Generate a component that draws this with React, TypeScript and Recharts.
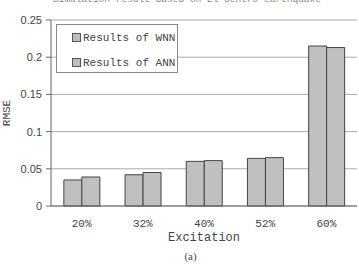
import { BarChart, Bar, XAxis, YAxis, CartesianGrid } from 'recharts';

const categories = ['20%', '32%', '40%', '52%', '60%'];
const wnnValues = [0.035, 0.042, 0.06, 0.064, 0.215];
const annValues = [0.039, 0.045, 0.061, 0.065, 0.213];
const yTicks = [0, 0.05, 0.1, 0.15, 0.2, 0.25];
const legendLabels = ['Results of WNN', 'Results of ANN'];

const mono = '"Liberation Mono", "DejaVu Sans Mono", monospace';
const sans = '"Liberation Sans", Arial, sans-serif';

const rows = categories.map((name, i) => ({ name, idx: i, wnn: wnnValues[i], ann: annValues[i] }));

// legend drawn as an overlay box so it does not push the plot down
function LegendBox() {
    return (
        <div style={{
            position: 'absolute', left: 56, top: 24, width: 122, height: 49, border: '1px solid #888', background: '#fff',
            fontFamily: mono, fontSize: 11, color: '#444', boxSizing: 'border-box', paddingLeft: 15, paddingTop: 4,
            whiteSpace: 'nowrap',
        }}>
            {legendLabels.map(label => (
                <div key={label} style={{ display: 'flex', alignItems: 'center', height: 17, marginBottom: 8 }}>
                    <span style={{ width: 7, height: 7, background: '#bdbdbd', border: '1px solid #555', marginRight: 2, display: 'inline-block', flexShrink: 0 }} />
                    <span>{label}</span>
                </div>
            ))}
        </div>
    );
}

export default function App() {
    return (
        <div style={{ position: 'absolute', left: 0, top: 0, width: 359, height: 264, background: '#fff', overflow: 'hidden' }}>
            <svg width={359} height={264} style={{ position: 'absolute', left: 0, top: 0 }}>
                {/* title is clipped by the top edge in the reference */}
                <text x={187} y={1.5} textAnchor="middle" fontFamily={mono} fontSize={9.5} fill="#888">
                    Simulation result based on El Centro earthquake
                </text>
            </svg>
            <BarChart width={359} height={264} data={rows} margin={{ top: 20, right: 2, bottom: 0, left: 0 }}
                barCategoryGap="21%" barGap={0} style={{ position: 'absolute', left: 0, top: 0 }}>
                <CartesianGrid vertical={false} stroke="#aaa" />
                <XAxis xAxisId="sep" dataKey="idx" type="number" domain={[-0.5, 4.5]} ticks={[0.5, 1.5, 2.5, 3.5]}
                    orientation="bottom" mirror height={0} axisLine={false} tickSize={4}
                    tickLine={{ stroke: '#666' }} tickFormatter={() => ''} />
                <XAxis dataKey="name" height={58} axisLine={{ stroke: '#666' }} tickLine={false}
                    tick={{ fontFamily: mono, fontSize: 11, fill: '#444' }} tickMargin={7}
                    label={{ value: 'Excitation', position: 'insideTop', offset: 26, style: { fontFamily: mono, fontSize: 12, fill: '#444' } }} />
                <YAxis domain={[0, 0.25]} ticks={yTicks} width={51} axisLine={{ stroke: '#666' }}
                    tickLine={{ stroke: '#666' }} tickSize={5} tickMargin={4} interval={0}
                    tick={{ fontFamily: sans, fontSize: 11, fill: '#444' }} tickFormatter={(v: number) => String(v)}
                    label={{ value: 'RMSE', angle: -90, position: 'insideLeft', offset: 6, style: { fontFamily: mono, fontSize: 11, fill: '#444', textAnchor: 'middle' } }} />
                <YAxis yAxisId="frame" orientation="right" width={0} axisLine={{ stroke: '#888' }} tick={false} tickLine={false} />
                <Bar dataKey="wnn" name={legendLabels[0]} fill="#c0c0c0" stroke="#444" strokeWidth={1} isAnimationActive={false} />
                <Bar dataKey="ann" name={legendLabels[1]} fill="#c0c0c0" stroke="#444" strokeWidth={1} isAnimationActive={false} />
            </BarChart>
            <LegendBox />
            <div style={{ position: 'absolute', left: 0, top: 250, width: 359, textAlign: 'center', fontFamily: '"Liberation Serif", serif', fontSize: 11, color: '#444', paddingLeft: 22, boxSizing: 'border-box' }}>
                (a)
            </div>
        </div>
    );
}
